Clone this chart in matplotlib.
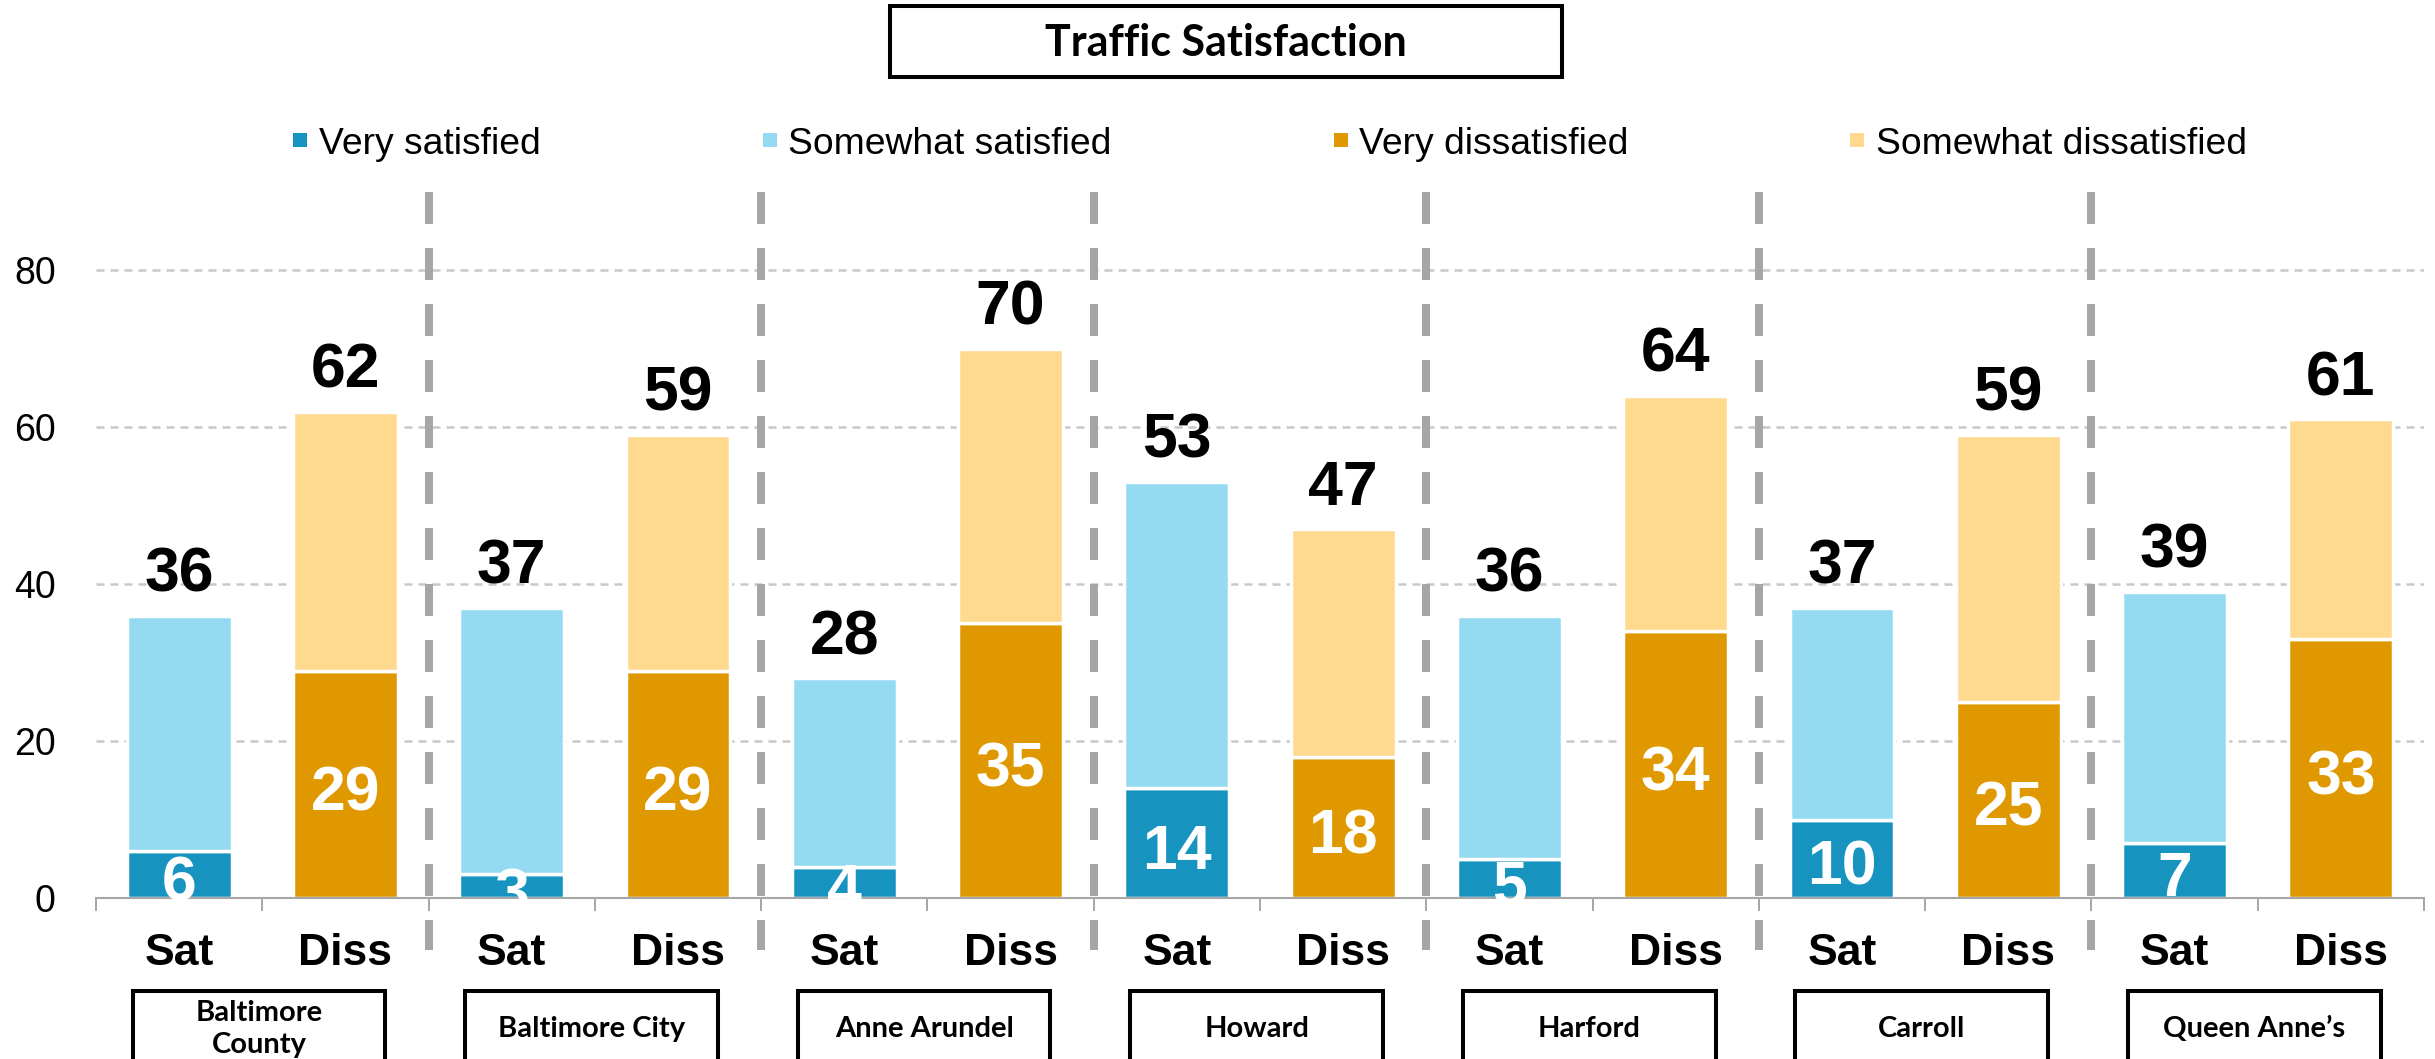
import matplotlib
matplotlib.use("Agg")
import matplotlib.pyplot as plt
from matplotlib.patches import Rectangle
from matplotlib.lines import Line2D
from matplotlib.transforms import blended_transform_factory

# ---------------- data ----------------
counties = ["Baltimore\nCounty", "Baltimore City", "Anne Arundel", "Howard",
            "Harford", "Carroll", "Queen Anne\u2019s"]
bar_labels = ["Sat", "Diss"]
very_sat = [6, 3, 4, 14, 5, 10, 7]
somewhat_sat = [30, 34, 24, 39, 31, 27, 32]
very_diss = [29, 29, 35, 18, 34, 25, 33]
somewhat_diss = [33, 30, 35, 29, 30, 34, 28]
sat_total = [36, 37, 28, 53, 36, 37, 39]
diss_total = [62, 59, 70, 47, 64, 59, 61]
series_names = ["Very satisfied", "Somewhat satisfied", "Very dissatisfied",
                "Somewhat dissatisfied"]
yticks = [0, 20, 40, 60, 80]
title = "Traffic Satisfaction"

# ---------------- style ----------------
C_VS = "#1793C0"
C_SS = "#94DBF2"
C_VD = "#E09800"
C_SD = "#FED98E"
GRAY = "#A6A6A6"
ARIAL = "Liberation Sans"
CALIBRI = "Lato"

W, H = 2435, 1059
fig = plt.figure(figsize=(W / 100, H / 100), dpi=100)
ax = fig.add_axes([96 / W, 1 - 898 / H, (2424 - 96) / W, (898 - 192) / H])

n = len(counties)
sat_x = [2 * i for i in range(n)]
diss_x = [2 * i + 1 for i in range(n)]
bw = 0.63
bkw = dict(width=bw, edgecolor="white", linewidth=2.5, zorder=2)

ax.bar(sat_x, very_sat, color=C_VS, **bkw)
ax.bar(sat_x, somewhat_sat, bottom=very_sat, color=C_SS, **bkw)
ax.bar(diss_x, very_diss, color=C_VD, **bkw)
ax.bar(diss_x, somewhat_diss, bottom=very_diss, color=C_SD, **bkw)

ax.set_xlim(-0.5, 2 * n - 0.5)
ax.set_ylim(0, 90)

# value labels
for i in range(n):
    ax.text(sat_x[i], sat_total[i] + 3.1, str(sat_total[i]), ha="center",
            va="baseline", fontsize=45, fontweight="bold", family=ARIAL, zorder=5)
    ax.text(diss_x[i], diss_total[i] + 3.1, str(diss_total[i]), ha="center",
            va="baseline", fontsize=45, fontweight="bold", family=ARIAL, zorder=5)
    ax.text(sat_x[i], very_sat[i] / 2 - 3.3, str(very_sat[i]), ha="center",
            va="baseline", fontsize=45, fontweight="bold", family=ARIAL,
            color="white", zorder=6)
    ax.text(diss_x[i], very_diss[i] / 2 - 3.3, str(very_diss[i]), ha="center",
            va="baseline", fontsize=45, fontweight="bold", family=ARIAL,
            color="white", zorder=6)

# grid
ax.set_axisbelow(True)
ax.yaxis.grid(True, color="#C8C8C8", linewidth=1.8, linestyle=(0, (3.2, 2.4)))
ax.set_yticks(yticks)
ax.tick_params(axis="y", length=0, pad=29, labelsize=27)
for lab in ax.get_yticklabels():
    lab.set_family(ARIAL)

# x ticks
ax.set_xticks(list(range(2 * n)))
ax.set_xticklabels(bar_labels * n)
ax.set_xticks([k - 0.5 for k in range(2 * n + 1)], minor=True)
ax.tick_params(axis="x", which="major", length=0, pad=25, labelsize=32)
ax.tick_params(axis="x", which="minor", length=9, width=1.4, color=GRAY,
               direction="out")
for lab in ax.get_xticklabels():
    lab.set_family(ARIAL)
    lab.set_fontweight("bold")

for s in ["left", "right", "top"]:
    ax.spines[s].set_visible(False)
ax.spines["bottom"].set_color(GRAY)
ax.spines["bottom"].set_linewidth(1.5)
ax.spines["bottom"].set_zorder(3)

# group separators
for k in range(1, n):
    xs = 2 * k - 0.5
    ax.plot([xs, xs], [90, -6.6], color=GRAY, linewidth=5.76,
            linestyle=(0, (4, 3)), clip_on=False, zorder=4,
            solid_capstyle="butt", dash_capstyle="butt")

# county boxes
btr = blended_transform_factory(ax.transData, fig.transFigure)
for i, name in enumerate(counties):
    cx = 2 * i + 0.48
    top = 1 - 991 / H
    rect = Rectangle((cx - 0.76, -0.1), 1.52, top + 0.1, transform=btr,
                     fill=False, edgecolor="black", linewidth=2.9,
                     clip_on=False)
    fig.add_artist(rect)
    ax.text(cx, 1 - 1029 / H, name, transform=btr, ha="center", va="center",
            fontsize=21, fontweight="bold", family=CALIBRI, linespacing=1.3)

# title box
fig.add_artist(Rectangle((890 / W, 1 - 77 / H), 672 / W, 71 / H,
                         transform=fig.transFigure, fill=False,
                         edgecolor="black", linewidth=2.9))
fig.text(1226 / W, 1 - 43 / H, title, ha="center", va="center", fontsize=31,
         fontweight="bold", family=CALIBRI)

# legend
handles = [Line2D([], [], marker="s", linestyle="none", markersize=10.5,
                  markerfacecolor=c, markeredgewidth=0)
           for c in [C_VS, C_SS, C_VD, C_SD]]
fig.legend(handles, series_names, loc="center", ncol=4,
           bbox_to_anchor=(1270 / W, 1 - 144 / H), frameon=False,
           prop={"family": ARIAL, "size": 26.8}, handlelength=0.4,
           handletextpad=0.3, columnspacing=5.95, borderaxespad=0,
           borderpad=0)

fig.savefig("out.png", dpi=100)
